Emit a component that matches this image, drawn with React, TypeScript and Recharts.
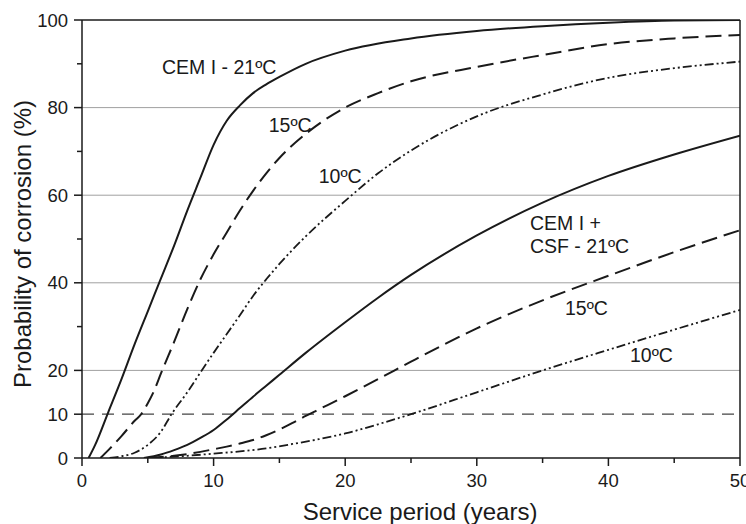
import React from 'react';
import { LineChart, Line, XAxis, YAxis, ReferenceLine, ReferenceDot } from 'recharts';

// tempo de serviço (anos) x probabilidade de corrosão (%)
const cemI21 = [
    { t: 0.5, p: 0 }, { t: 1, p: 3 }, { t: 2, p: 10.5 }, { t: 3, p: 18 }, { t: 4, p: 26 },
    { t: 5, p: 33.5 }, { t: 6, p: 41 }, { t: 7, p: 48.5 }, { t: 8, p: 56.5 }, { t: 9, p: 64 },
    { t: 10, p: 71.5 }, { t: 11, p: 77 }, { t: 12, p: 80.5 }, { t: 13, p: 83.3 }, { t: 14, p: 85.3 },
    { t: 15, p: 87 }, { t: 17, p: 90 }, { t: 20, p: 93 }, { t: 25, p: 95.8 }, { t: 30, p: 97.5 },
    { t: 35, p: 98.6 }, { t: 40, p: 99.4 }, { t: 45, p: 99.9 }, { t: 50, p: 100 },
];
const cemI15 = [
    { t: 1.4, p: 0 }, { t: 2, p: 1.8 }, { t: 3, p: 5 }, { t: 4, p: 8.5 }, { t: 4.5, p: 10 },
    { t: 5, p: 12.5 }, { t: 5.5, p: 15.5 }, { t: 6, p: 19.3 }, { t: 7, p: 26.5 }, { t: 8, p: 34 },
    { t: 9, p: 40.8 }, { t: 10, p: 46.5 }, { t: 11, p: 51.5 }, { t: 12, p: 56.5 }, { t: 13, p: 61 },
    { t: 14, p: 65 }, { t: 15, p: 68.5 }, { t: 17, p: 74 }, { t: 20, p: 80 }, { t: 22.5, p: 83.3 },
    { t: 25, p: 86 }, { t: 30, p: 89.3 }, { t: 35, p: 92 }, { t: 40, p: 94.5 }, { t: 45, p: 95.8 },
    { t: 50, p: 96.6 },
];
const cemI10 = [
    { t: 2.1, p: 0 }, { t: 3, p: 0.4 }, { t: 4, p: 1.2 }, { t: 5, p: 3 }, { t: 6, p: 6 },
    { t: 6.8, p: 10 }, { t: 8, p: 15 }, { t: 9.1, p: 20 }, { t: 10, p: 24 }, { t: 11, p: 28.3 },
    { t: 12, p: 32.6 }, { t: 13, p: 37 }, { t: 14, p: 40.8 }, { t: 15, p: 44.3 }, { t: 17, p: 50.6 },
    { t: 20, p: 58.7 }, { t: 22.5, p: 65 }, { t: 25, p: 70.2 }, { t: 30, p: 78 }, { t: 35, p: 83 },
    { t: 40, p: 86.8 }, { t: 45, p: 89 }, { t: 50, p: 90.5 },
];
const csf21 = [
    { t: 4.7, p: 0 }, { t: 6, p: 0.8 }, { t: 7, p: 1.8 }, { t: 8, p: 3 }, { t: 9, p: 4.6 },
    { t: 10, p: 6.4 }, { t: 11, p: 8.8 }, { t: 12, p: 11.4 }, { t: 13, p: 14 }, { t: 14, p: 16.5 },
    { t: 15, p: 19 }, { t: 17, p: 24 }, { t: 20, p: 31 }, { t: 22.5, p: 36.6 }, { t: 25, p: 41.8 },
    { t: 30, p: 50.8 }, { t: 35, p: 58.3 }, { t: 40, p: 64.4 }, { t: 45, p: 69.3 }, { t: 50, p: 73.6 },
];
const csf15 = [
    { t: 5, p: 0 }, { t: 7, p: 0.5 }, { t: 9, p: 1.4 }, { t: 10, p: 2 }, { t: 11, p: 2.6 },
    { t: 12, p: 3.3 }, { t: 13, p: 4.1 }, { t: 14, p: 5.2 }, { t: 15, p: 6.5 }, { t: 16, p: 8 },
    { t: 17, p: 9.6 }, { t: 18, p: 11.1 }, { t: 20, p: 14.1 }, { t: 22.5, p: 18 }, { t: 25, p: 22 },
    { t: 30, p: 29.6 }, { t: 35, p: 36 }, { t: 40, p: 41.6 }, { t: 45, p: 47 }, { t: 50, p: 52 },
];
const csf10 = [
    { t: 5, p: 0 }, { t: 8, p: 0.5 }, { t: 10, p: 1 }, { t: 12, p: 1.5 }, { t: 14, p: 2.2 },
    { t: 16, p: 3.2 }, { t: 18, p: 4.3 }, { t: 20, p: 5.6 }, { t: 22.5, p: 7.7 }, { t: 25, p: 10 },
    { t: 30, p: 15 }, { t: 35, p: 20 }, { t: 40, p: 24.7 }, { t: 45, p: 29.3 }, { t: 50, p: 33.8 },
];

const xTicks = [0, 5, 10, 15, 20, 25, 30, 35, 40, 45, 50];
const xLabelled = [0, 10, 20, 30, 40, 50];
const yTicks = [0, 10, 20, 30, 40, 50, 60, 70, 80, 90, 100];
const yLabelled = [0, 10, 20, 40, 60, 80, 100];
const gridLines = [20, 40, 60, 80];
const threshold = 10;

const notes = [
    { t: 6.08, p: 87.7, text: 'CEM I - 21ºC' },
    { t: 14.19, p: 74.5, text: '15ºC' },
    { t: 17.99, p: 62.7, text: '10ºC' },
    { t: 34.04, p: 52.1, text: 'CEM I +' },
    { t: 34.04, p: 46.9, text: 'CSF - 21ºC' },
    { t: 36.7, p: 32.6, text: '15ºC' },
    { t: 41.64, p: 21.9, text: '10ºC' },
];

const FONT = "'Liberation Sans', Arial, sans-serif";
const INK = '#1a1a1a';

const SOLID = undefined;
const DASH = '16 7';
const DASH_DOT_DOT = '9 3 2 3 2 3';

const series = [
    { key: 'cemI21', data: cemI21, dash: SOLID, width: 2 },
    { key: 'cemI15', data: cemI15, dash: DASH, width: 2 },
    { key: 'cemI10', data: cemI10, dash: DASH_DOT_DOT, width: 1.8 },
    { key: 'csf21', data: csf21, dash: SOLID, width: 2 },
    { key: 'csf15', data: csf15, dash: DASH, width: 2 },
    { key: 'csf10', data: csf10, dash: DASH_DOT_DOT, width: 1.8 },
];

const XTick = ({ x, y, payload }: any) => {
    const v = payload.value;
    const major = xLabelled.includes(v);
    return (
        <g>
            <line x1={x} x2={x} y1={y} y2={y + (major ? 8 : 5)} stroke={INK} strokeWidth={1.5} />
            {major && (
                <text x={x} y={y + 29} textAnchor="middle" fontSize={18.5} fontFamily={FONT} fill={INK}>{v}</text>
            )}
        </g>
    );
};

const YTick = ({ x, y, payload }: any) => {
    const v = payload.value;
    const major = yLabelled.includes(v);
    return (
        <g>
            <line x1={x} x2={x - (major ? 8 : 5)} y1={y} y2={y} stroke={INK} strokeWidth={1.5} />
            {major && (
                <text x={x - 14} y={y + 6.5} textAnchor="end" fontSize={18.5} fontFamily={FONT} fill={INK}>{v}</text>
            )}
        </g>
    );
};

const noteLabel = (text: string) => (props: any) => {
    const vb = props.viewBox;
    if (!vb) return null;
    const x = vb.x + (vb.width || 0) / 2;
    const y = vb.y + (vb.height || 0) / 2;
    return (
        <text x={x} y={y} textAnchor="start" fontSize={19.5} fontFamily={FONT} fill={INK}>{text}</text>
    );
};

const xTitle = (props: any) => {
    const vb = props.viewBox;
    if (!vb) return null;
    return (
        <text x={vb.x + vb.width / 2 + 9} y={vb.y + 62} textAnchor="middle" fontSize={24} fontFamily={FONT} fill={INK}>
            Service period (years)
        </text>
    );
};

const yTitle = (props: any) => {
    const vb = props.viewBox;
    if (!vb) return null;
    const cx = vb.x + 9;
    const cy = vb.y + vb.height / 2 + 5;
    return (
        <text x={0} y={0} transform={`translate(${cx}, ${cy}) rotate(-90)`} textAnchor="middle" fontSize={24} fontFamily={FONT} fill={INK}>
            Probability of corrosion (%)
        </text>
    );
};

export default function App() {
    return (
        <div style={{ position: 'absolute', left: 0, top: 0, width: 746, height: 524, background: '#fff' }}>
            <LineChart width={746} height={524} margin={{ top: 20, right: 6, bottom: 16, left: 22 }}>
                <XAxis
                    dataKey="t"
                    type="number"
                    domain={[0, 50]}
                    ticks={xTicks}
                    interval={0}
                    height={50}
                    tickLine={false}
                    tickSize={0}
                    tickMargin={0}
                    tick={<XTick />}
                    axisLine={{ stroke: INK, strokeWidth: 1.5 }}
                    allowDataOverflow
                    label={xTitle}
                />
                <YAxis
                    type="number"
                    domain={[0, 100]}
                    ticks={yTicks}
                    interval={0}
                    width={60}
                    tickLine={false}
                    tickSize={0}
                    tickMargin={0}
                    tick={<YTick />}
                    axisLine={{ stroke: INK, strokeWidth: 1.5 }}
                    allowDataOverflow
                    label={yTitle}
                />
                {gridLines.map((g) => (
                    <ReferenceLine key={`g-${g}`} y={g} stroke="#a0a0a0" strokeWidth={1} />
                ))}
                <ReferenceLine y={threshold} stroke="#444" strokeWidth={1.3} strokeDasharray="12 8" />
                <ReferenceLine y={100} stroke={INK} strokeWidth={1.5} />
                <ReferenceLine x={50} stroke={INK} strokeWidth={1.5} />
                {series.map((s) => (
                    <Line
                        key={s.key}
                        data={s.data}
                        dataKey="p"
                        type="monotone"
                        stroke={INK}
                        strokeWidth={s.width}
                        strokeDasharray={s.dash}
                        dot={false}
                        activeDot={false}
                        isAnimationActive={false}
                    />
                ))}
                {notes.map((n, i) => (
                    <ReferenceDot
                        key={`n-${i}`}
                        x={n.t}
                        y={n.p}
                        r={0}
                        fill="none"
                        stroke="none"
                        label={noteLabel(n.text)}
                    />
                ))}
            </LineChart>
        </div>
    );
}
